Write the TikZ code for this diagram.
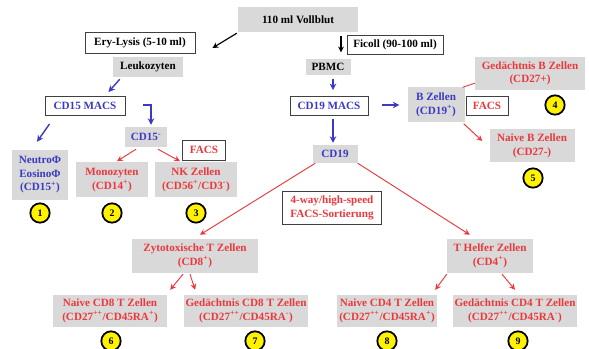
\documentclass[tikz,border=0pt]{standalone}
\usepackage{fontspec}
\setmainfont{Liberation Serif}
\definecolor{boxgrey}{RGB}{217,217,217}
\definecolor{cellred}{RGB}{236,56,60}
\definecolor{cellblue}{RGB}{58,58,196}
\usetikzlibrary{arrows.meta,calc}
\tikzset{
  gbox/.style={fill=boxgrey,inner sep=1pt,align=center,
               font=\fontsize{9.5}{11.5}\selectfont\bfseries},
  wbox/.style={draw=black!75,fill=white,line width=0.8pt,inner sep=1pt,align=center,
               font=\fontsize{9.5}{11.5}\selectfont\bfseries},
  num/.style={circle,draw=black,line width=1.5pt,fill=yellow,minimum size=0.58cm,
              inner sep=0pt,font=\fontsize{8.5}{8.5}\selectfont\bfseries},
  karr/.style={-{Stealth[length=5pt,width=5pt]},line width=1pt,black},
  barr/.style={-{Stealth[length=5.5pt,width=5.5pt]},line width=1.2pt,cellblue},
  rarr/.style={-{Stealth[length=5pt,width=5pt]},line width=0.8pt,cellred},
}
\begin{document}
\begin{tikzpicture}[x=0.03cm,y=-0.03cm]
  \useasboundingbox[fill=white] (0,0) rectangle (589,349);
  % top
  \node[gbox,minimum width=3.6cm,minimum height=0.75cm] (blut) at (298,19.5) {110 ml Vollblut};
  \node[wbox,minimum width=3.3cm,minimum height=0.63cm] (ery) at (140,42.5) {Ery-Lysis (5-10 ml)};
  \node[wbox,minimum width=2.88cm,minimum height=0.57cm] (ficoll) at (395,45) {Ficoll (90-100 ml)};
  \node[gbox,minimum width=2.1cm,minimum height=0.6cm] (leuko) at (148,67) {Leukozyten};
  \node[gbox,minimum width=1.35cm,minimum height=0.5cm] (pbmc) at (328,67) {PBMC};
  % left branch
  \node[wbox,text=cellblue,minimum width=2.4cm,minimum height=0.57cm] (macsa) at (85,106) {CD15 MACS};
  \node[gbox,text=cellblue,minimum width=1.26cm,minimum height=0.6cm] (cdneg) at (146,137) {CD15\textsuperscript{-}};
  \node[wbox,text=cellred,minimum width=1.29cm,minimum height=0.6cm] (facsa) at (204,150) {FACS};
  \node[gbox,text=cellblue,minimum width=1.65cm,minimum height=1.5cm] (neutro) at (40,175) {NeutroΦ\\EosinoΦ\\(CD15\textsuperscript{+})};
  \node[gbox,text=cellred,minimum width=2.16cm,minimum height=1.05cm] (mono) at (112,180) {Monozyten\\(CD14\textsuperscript{+})};
  \node[gbox,text=cellred,minimum width=2.46cm,minimum height=1.05cm] (nk) at (196,180) {NK Zellen\\(CD56\textsuperscript{+}/CD3\textsuperscript{-})};
  % right branch
  \node[wbox,text=cellblue,minimum width=2.34cm,minimum height=0.57cm] (macsb) at (329,106) {CD19 MACS};
  \node[gbox,text=cellblue,minimum width=1.71cm,minimum height=1.05cm] (bz) at (436,105) {B Zellen\\(CD19\textsuperscript{+})};
  \node[wbox,text=cellred,minimum width=1.26cm,minimum height=0.57cm] (facsb) at (487,106) {FACS};
  \node[gbox,text=cellred,minimum width=3.3cm,minimum height=0.99cm] (gedb) at (530,73.5) {Gedächtnis B Zellen\\(CD27+)};
  \node[gbox,text=cellred,minimum width=2.55cm,minimum height=0.99cm] (naiveb) at (532,146) {Naive B Zellen\\(CD27-)};
  \node[gbox,text=cellblue,minimum width=1.35cm,minimum height=0.54cm] (cdnull) at (335,154) {CD19};
  \node[wbox,text=cellred,minimum width=2.97cm,minimum height=0.99cm] (sort) at (332,208) {4-way/high-speed\\FACS-Sortierung};
  % T cells
  \node[gbox,text=cellred,minimum width=3.75cm,minimum height=1.02cm] (zyto) at (195,256) {Zytotoxische T Zellen\\(CD8\textsuperscript{+})};
  \node[gbox,text=cellred,minimum width=2.58cm,minimum height=1.02cm] (thelf) at (490,256) {T Helfer Zellen\\(CD4\textsuperscript{+})};
  \node[gbox,text=cellred,minimum width=3.39cm,minimum height=0.96cm] (naive8) at (110,311) {Naive CD8 T Zellen\\(CD27\textsuperscript{++}/CD45RA\textsuperscript{+})};
  \node[gbox,text=cellred,minimum width=3.24cm,minimum height=0.96cm] (ged8) at (246,311) {Gedächtnis CD8 T Zellen\\(CD27\textsuperscript{++}/CD45RA\textsuperscript{-})};
  \node[gbox,text=cellred,minimum width=3.0cm,minimum height=0.96cm] (naive4) at (387,311) {Naive CD4 T Zellen\\(CD27\textsuperscript{++}/CD45RA\textsuperscript{+})};
  \node[gbox,text=cellred,minimum width=3.72cm,minimum height=0.96cm] (ged4) at (515,311) {Gedächtnis CD4 T Zellen\\(CD27\textsuperscript{++}/CD45RA\textsuperscript{-})};
  % numbers
  \node[num] (n1) at (40,213) {1};
  \node[num] (n2) at (112,213) {2};
  \node[num] (n3) at (196,213) {3};
  \node[num] (n4) at (555,105) {4};
  \node[num] (n5) at (533,178) {5};
  \node[num] (n6) at (111,341) {6};
  \node[num] (n7) at (255,341) {7};
  \node[num] (n8) at (387,341) {8};
  \node[num] (n9) at (518,341) {9};
  % connectors
  \draw[karr] ([shift={(-1,1)}]blut.south west) -- ([shift={(17,5.5)}]ery.east);
  \draw[karr] ([shift={(43,4)}]blut.south) -- ([shift={(13,-6)}]pbmc.north);
  \draw[barr] ([shift={(7,2)}]leuko.south west) -- ([shift={(-17,-4)}]macsa.north east);
  \draw[barr] ([shift={(18,-1)}]macsa.east) -| ([shift={(5,-2)}]cdneg.north);
  \draw[barr] ([shift={(5,8)}]macsa.south west) -- ([shift={(-3,-8)}]neutro.north);
  \draw[rarr] ([shift={(-10,2)}]cdneg.south) -- ([shift={(5,-1)}]mono.north);
  \draw[rarr] ([shift={(12,2)}]cdneg.south) -- ([shift={(-16,-1)}]nk.north);
  \draw[barr] ([shift={(5,3)}]pbmc.south) -- ([shift={(4,-6)}]macsb.north);
  \draw[barr] ([shift={(4,3)}]macsb.south) -- ([shift={(-2,-2)}]cdnull.north);
  \draw[barr] ([shift={(14,-1)}]macsb.east) -- ([shift={(-8,0)}]bz.west);
  \draw[cellred,line width=0.8pt] ([shift={(-2,0)}]bz.north east) -- ([shift={(0,-7)}]gedb.south west);
  \draw[rarr] ([shift={(-1,1)}]bz.south east) -- ([shift={(-7,-5)}]naiveb.west);
  \draw[rarr] ([shift={(3,0)}]cdnull.south west) -- ([shift={(5,-4)}]zyto.north);
  \draw[rarr] (cdnull.south east) -- ([shift={(23,-4)}]thelf.north west);
  \draw[rarr] ([shift={(-12,1)}]zyto.south) -- ([shift={(3.5,-5)}]naive8.north east);
  \draw[rarr] ([shift={(-5,1)}]zyto.south) -- ([shift={(11,-5)}]ged8.north west);
  \draw[rarr] ([shift={(0,1)}]thelf.south west) -- ([shift={(-2,-5)}]naive4.north east);
  \draw[rarr] ([shift={(12,1)}]thelf.south) -- ([shift={(0,-5)}]ged4.north);
\end{tikzpicture}
\end{document}
